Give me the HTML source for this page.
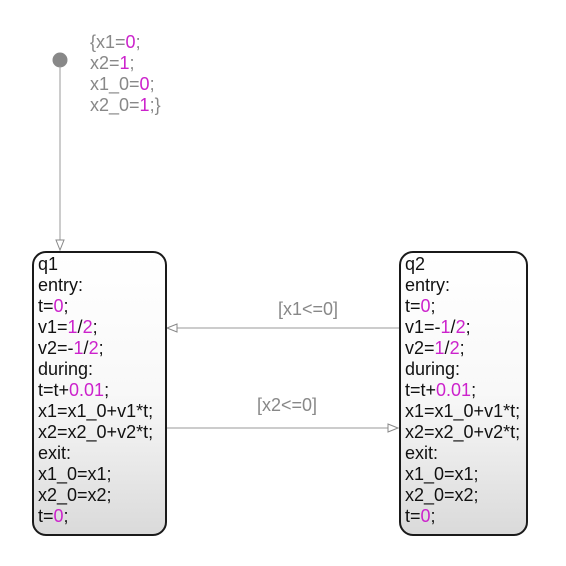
<html><head><style>
body{margin:0;width:566px;height:566px;background:#fff;position:relative;font-family:"Liberation Sans",Arial,sans-serif;overflow:hidden}
.box{position:absolute;border:2px solid #1a1a1a;border-radius:14px;background:linear-gradient(#fff 0%,#f8f8f8 50%,#dadada 100%);box-sizing:border-box}
.t{position:absolute;font-size:18px;line-height:21px;color:#111;white-space:pre}
.m{color:#cc22cc}
.g{color:#888}
</style></head><body>
<svg width="566" height="566" style="position:absolute;left:0;top:0">
<circle cx="60" cy="60" r="7.5" fill="#888"/>
<line x1="60" y1="66" x2="60" y2="250" stroke="#999" stroke-width="1"/>
<polygon points="56,240 64,240 60,250" fill="#fff" stroke="#888"/>
<line x1="399" y1="328" x2="167" y2="328" stroke="#999"/>
<polygon points="177,324 177,332 167,328" fill="#fff" stroke="#888"/>
<line x1="166" y1="428" x2="398" y2="428" stroke="#999"/>
<polygon points="388,424 388,432 398,428" fill="#fff" stroke="#888"/>
</svg>
<div class="t g" style="left:90px;top:32px">{x1=<span class="m">0</span>;
x2=<span class="m">1</span>;
x1_0=<span class="m">0</span>;
x2_0=<span class="m">1</span>;}</div>
<div class="t g" style="left:278px;top:299px">[x1&lt;=0]</div>
<div class="t g" style="left:257px;top:395px">[x2&lt;=0]</div>
<div class="box" style="left:32px;top:251px;width:135px;height:285px"></div>
<div class="box" style="left:399px;top:251px;width:129px;height:285px"></div>
<div class="t" style="left:38px;top:254px">q1
entry:
t=<span class="m">0</span>;
v1=<span class="m">1</span>/<span class="m">2</span>;
v2=-<span class="m">1</span>/<span class="m">2</span>;
during:
t=t+<span class="m">0.01</span>;
x1=x1_0+v1*t;
x2=x2_0+v2*t;
exit:
x1_0=x1;
x2_0=x2;
t=<span class="m">0</span>;</div>
<div class="t" style="left:405px;top:254px">q2
entry:
t=<span class="m">0</span>;
v1=-<span class="m">1</span>/<span class="m">2</span>;
v2=<span class="m">1</span>/<span class="m">2</span>;
during:
t=t+<span class="m">0.01</span>;
x1=x1_0+v1*t;
x2=x2_0+v2*t;
exit:
x1_0=x1;
x2_0=x2;
t=<span class="m">0</span>;</div>
</body></html>
